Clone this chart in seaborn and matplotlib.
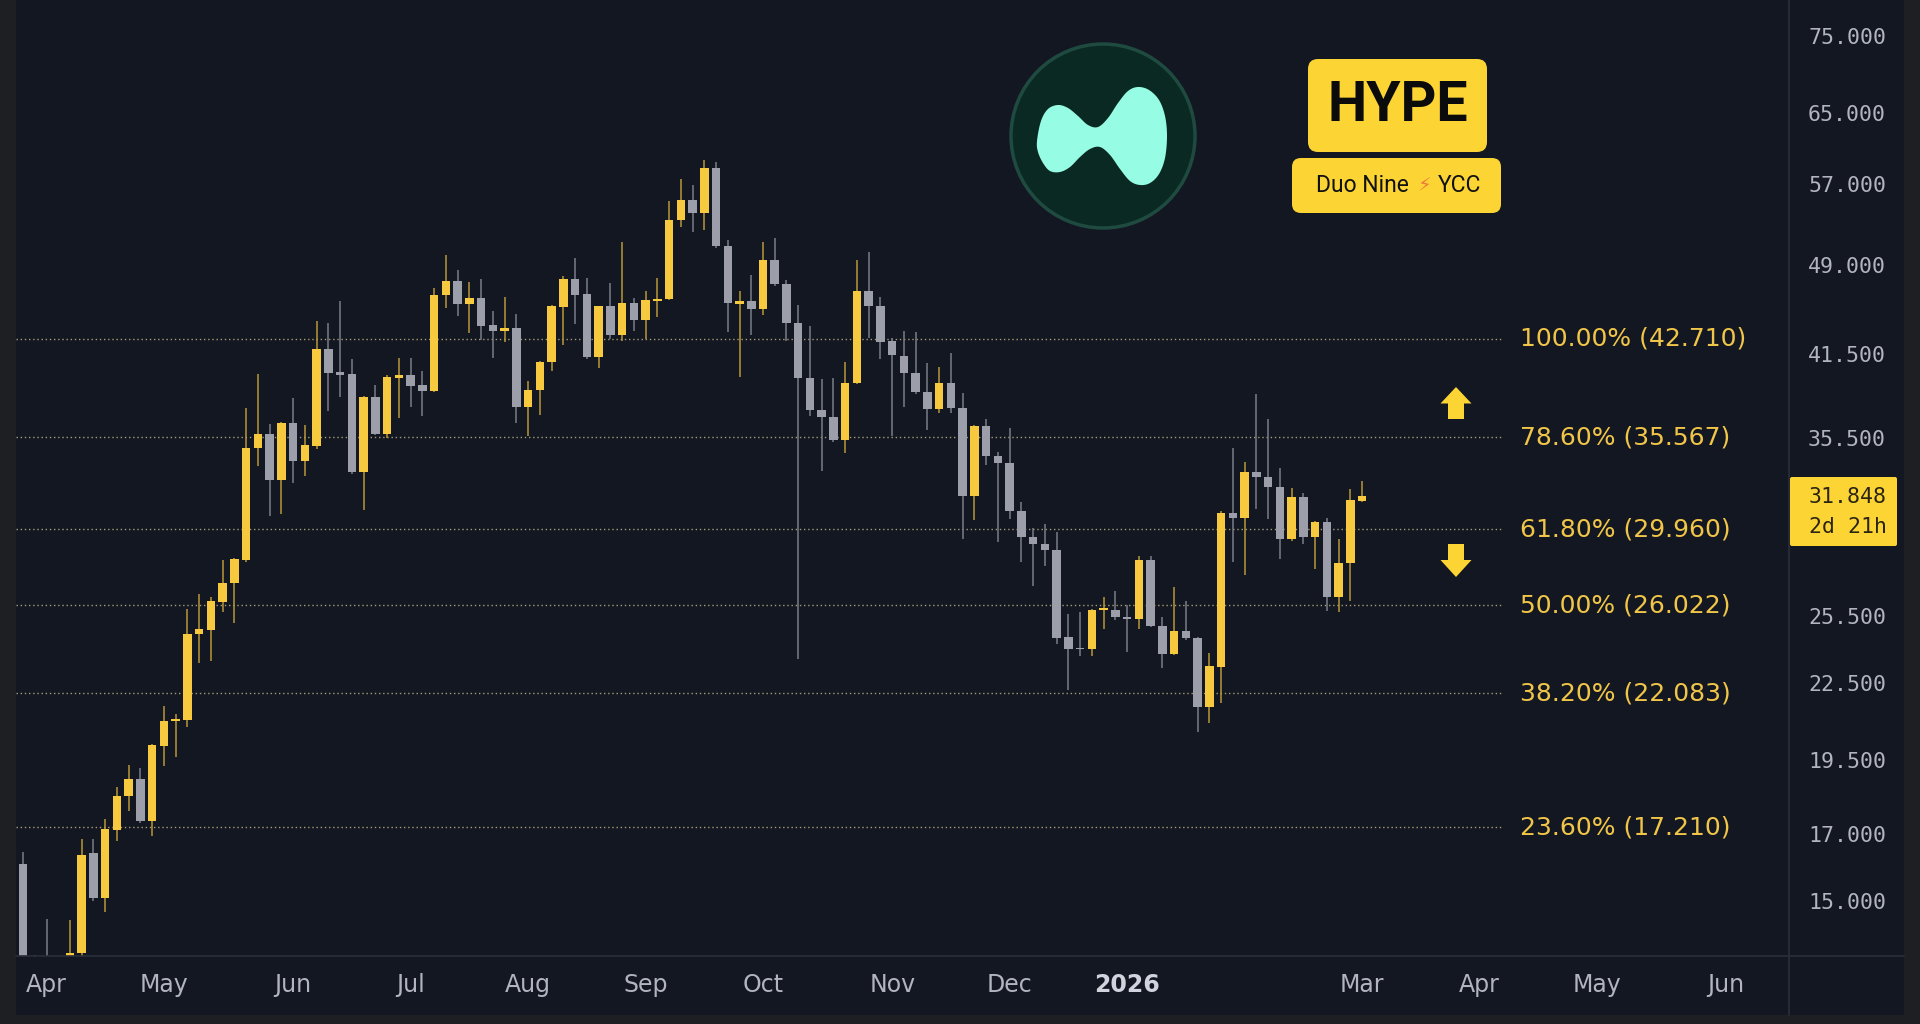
import numpy as np
import pandas as pd
import matplotlib
matplotlib.use("Agg")
import matplotlib.pyplot as plt
import matplotlib.dates as mdates
from matplotlib.patches import Rectangle, FancyBboxPatch, Polygon, Circle
from matplotlib.lines import Line2D
from matplotlib.transforms import IdentityTransform
from matplotlib.ticker import FixedLocator, NullLocator, FuncFormatter
import seaborn as sns

# ---------------- data ----------------
start_date = "2025-03-26"
n_bars = 115
bar_dates = pd.date_range(start_date, periods=n_bars, freq="3D")

opens = [16.07, 13.20, 12.80, 12.20, 11.00, 13.62, 16.40, 15.08, 17.12, 18.24,
         18.82, 17.41, 20.02, 20.97, 21.00, 24.66, 24.85, 26.17, 27.12, 28.30,
         34.83, 35.78, 32.85, 36.53, 34.03, 35.00, 41.92, 40.15, 40.00, 33.34,
         38.34, 35.78, 39.70, 39.93, 39.20, 38.77, 46.36, 47.58, 45.59, 46.10,
         43.80, 43.35, 43.60, 37.63, 38.84, 40.92, 45.30, 47.70, 46.40, 41.26,
         45.36, 42.98, 45.67, 44.27, 45.80, 46.00, 53.30, 55.30, 54.00, 58.70,
         50.80, 45.60, 45.80, 45.19, 49.50, 47.26, 44.00, 39.70, 37.40, 36.90,
         35.37, 39.37, 46.66, 45.36, 42.50, 41.40, 40.10, 38.67, 37.46, 39.32,
         37.58, 31.85, 36.34, 34.35, 33.90, 31.00, 29.52, 29.16, 28.85, 24.50,
         24.00, 23.98, 25.78, 25.80, 25.47, 25.35, 28.30, 25.04, 23.74, 24.79,
         24.46, 21.54, 23.20, 30.87, 30.62, 33.34, 33.05, 32.40, 29.41, 31.84,
         29.52, 30.38, 26.40, 28.13, 31.60]
highs = [16.43, 13.56, 14.50, 13.20, 14.48, 16.83, 16.85, 17.47, 18.55, 19.32,
         19.20, 20.10, 21.56, 21.24, 25.83, 26.56, 26.42, 28.30, 28.40, 37.56,
         40.02, 36.46, 36.60, 38.27, 36.38, 44.17, 44.00, 45.83, 41.15, 38.40,
         39.20, 39.90, 41.20, 41.20, 40.23, 46.97, 49.94, 48.56, 47.49, 47.75,
         45.00, 46.19, 44.75, 39.50, 41.00, 45.50, 48.03, 49.66, 47.87, 45.40,
         47.40, 51.17, 46.10, 46.66, 47.87, 55.22, 57.47, 56.92, 59.53, 59.40,
         51.31, 46.66, 48.12, 51.17, 51.55, 47.68, 45.50, 43.76, 39.64, 39.70,
         40.92, 49.43, 50.22, 46.21, 42.80, 43.35, 43.27, 40.80, 40.54, 41.63,
         38.60, 36.40, 36.80, 34.60, 36.20, 31.55, 30.05, 30.26, 29.83, 25.58,
         25.70, 25.85, 26.43, 26.73, 26.02, 28.50, 28.50, 25.44, 26.93, 26.20,
         24.50, 23.79, 31.00, 34.85, 33.98, 38.55, 36.78, 33.57, 32.33, 32.04,
         30.45, 30.60, 29.43, 32.28, 32.79]
lows = [12.90, 12.40, 11.80, 9.80, 10.50, 13.40, 15.00, 14.69, 16.77, 17.73,
        17.35, 16.93, 19.28, 19.61, 20.74, 23.36, 23.45, 25.69, 25.17, 28.20,
        33.71, 30.72, 30.84, 32.67, 33.09, 34.80, 37.35, 38.34, 33.20, 31.06,
        35.70, 35.50, 36.87, 37.63, 37.00, 38.70, 45.25, 44.58, 43.19, 42.63,
        41.24, 42.47, 36.53, 35.65, 37.04, 40.23, 42.24, 43.92, 41.10, 40.46,
        42.66, 42.55, 43.35, 42.66, 44.50, 45.90, 52.64, 52.13, 52.30, 50.60,
        43.27, 39.80, 42.98, 44.66, 47.10, 42.52, 23.52, 37.00, 33.38, 35.25,
        34.56, 39.30, 42.80, 41.17, 35.65, 37.63, 38.55, 36.05, 37.18, 37.18,
        29.40, 30.46, 33.80, 29.28, 30.55, 28.18, 26.96, 28.00, 24.22, 22.22,
        23.67, 23.67, 24.87, 25.30, 23.83, 24.87, 25.00, 23.16, 23.70, 24.40,
        20.56, 20.88, 21.67, 28.18, 27.52, 31.10, 30.55, 28.34, 29.30, 29.13,
        27.81, 25.75, 25.70, 26.20, 31.55]
closes = [13.30, 12.80, 12.20, 11.00, 13.62, 16.34, 15.08, 17.15, 18.24, 18.82,
          17.41, 20.05, 20.97, 21.02, 24.66, 24.89, 26.22, 27.12, 28.36, 34.87,
          35.78, 32.85, 36.53, 34.03, 35.06, 41.92, 40.09, 39.93, 33.34, 38.34,
          35.78, 39.80, 39.93, 39.13, 38.77, 46.36, 47.58, 45.59, 46.10, 43.76,
          43.35, 43.60, 37.63, 38.84, 40.92, 45.36, 47.70, 46.36, 41.26, 45.36,
          42.98, 45.67, 44.27, 45.90, 46.00, 53.32, 55.30, 54.00, 58.70, 50.78,
          45.62, 45.80, 45.19, 49.50, 47.26, 44.00, 39.70, 37.40, 36.90, 35.37,
          39.37, 46.66, 45.36, 42.48, 41.41, 40.10, 38.67, 37.46, 39.32, 37.58,
          31.85, 36.34, 34.35, 33.89, 31.00, 29.52, 29.16, 28.83, 24.49, 23.99,
          23.96, 25.80, 25.82, 25.47, 25.35, 28.30, 25.04, 23.74, 24.79, 24.46,
          21.54, 23.23, 30.87, 30.62, 33.34, 33.05, 32.40, 29.41, 31.84, 29.52,
          30.38, 26.40, 28.13, 31.65, 31.848]

fib_levels = [42.710, 35.567, 29.960, 26.022, 22.083, 17.210]
fib_labels = ["100.00%", "78.60%", "61.80%", "50.00%", "38.20%", "23.60%"]

price_ticks = [15, 17, 19.5, 22.5, 25.5, 35.5, 41.5, 49, 57, 65, 75]
month_tick_dates = ["2025-04-01", "2025-05-01", "2025-06-03", "2025-07-03",
                    "2025-08-02", "2025-09-01", "2025-10-01", "2025-11-03",
                    "2025-12-03", "2026-01-02", "2026-03-03", "2026-04-02",
                    "2026-05-02", "2026-06-04"]
month_tick_labels = ["Apr", "May", "Jun", "Jul", "Aug", "Sep", "Oct", "Nov",
                     "Dec", "2026", "Mar", "Apr", "May", "Jun"]
last_price_text = "31.848"
countdown_text = "2d 21h"
symbol = "HYPE"

# ---------------- style ----------------
BG = "#131722"
OUTER = "#1e1f23"
UP = "#F6C93F"
DOWN = "#9c9fa9"
UP_WICK = "#b8983a"
DOWN_WICK = "#7a7d87"
GRIDLINE = "#2a2e39"
AXTXT = "#b2b5be"
FIBC = "#F0C548"
BOXY = "#FCD535"

sns.set_theme(style="dark", rc={"axes.facecolor": BG, "figure.facecolor": OUTER})
plt.rcParams["font.family"] = ["DejaVu Sans"]

W, H = 1920, 1024
fig = plt.figure(figsize=(W / 100, H / 100), dpi=100)
fig.patch.set_facecolor(OUTER)

ID = IdentityTransform()
def P(px, py):
    return (px, H - py)

# chart panel background
fig.add_artist(Rectangle(P(16, 1015), 1904 - 16, 1015, transform=ID,
                         facecolor=BG, edgecolor="none", zorder=0))

ax_l, ax_r, ax_t, ax_b = 16, 1789, 0, 956
ax = fig.add_axes([ax_l / W, 1 - ax_b / H, (ax_r - ax_l) / W, (ax_b - ax_t) / H])
ax.set_facecolor(BG)

x = mdates.date2num(bar_dates)
o = np.array(opens); h = np.array(highs); l = np.array(lows); c = np.array(closes)
up = c >= o
body_lo = np.minimum(o, c)
body_hi = np.maximum(o, c)
body_hi = np.maximum(body_hi, body_lo * 1.0035)

ax.vlines(x[up], l[up], h[up], colors=UP_WICK, lw=1.1, zorder=2)
ax.vlines(x[~up], l[~up], h[~up], colors=DOWN_WICK, lw=1.1, zorder=2)
bw = 2.17
ax.bar(x[up], body_hi[up] - body_lo[up], bottom=body_lo[up], width=bw,
       color=UP, edgecolor="none", zorder=3)
ax.bar(x[~up], body_hi[~up] - body_lo[~up], bottom=body_lo[~up], width=bw,
       color=DOWN, edgecolor="none", zorder=3)

ax.set_yscale("log")
ax.set_ylim(13.54, 80.25)
x0 = mdates.date2num(pd.Timestamp(start_date))
ax.set_xlim(x0 - 1.79, x0 + 451.05)
ax.grid(False)
for s in ax.spines.values():
    s.set_visible(False)

# fib levels
fib_xmax = (1503 - ax_l) / (ax_r - ax_l)
fib_tx = (1520 - ax_l) / (ax_r - ax_l)
ytr = ax.get_yaxis_transform()
for lev, lab in zip(fib_levels, fib_labels):
    ax.axhline(lev, xmin=0, xmax=fib_xmax, color="#d8c98e", lw=1.0,
               ls=(0, (1, 2)), alpha=0.75, zorder=1)
    ax.text(fib_tx, lev, f"{lab} ({lev:.3f})", transform=ytr, ha="left",
            va="center", color=FIBC, fontsize=18, clip_on=False)

# y axis on the right
ax.yaxis.tick_right()
ax.yaxis.set_major_locator(FixedLocator(price_ticks))
ax.yaxis.set_minor_locator(NullLocator())
ax.yaxis.set_major_formatter(FuncFormatter(lambda v, p: f"{v:.3f}"))
ax.tick_params(axis="y", length=0, pad=13.7, labelsize=15.5, labelcolor=AXTXT)
for t in ax.get_yticklabels():
    t.set_fontfamily("DejaVu Sans Mono")

# x axis
ax.set_xticks(mdates.date2num(pd.to_datetime(month_tick_dates)))
ax.set_xticklabels(month_tick_labels)
ax.xaxis.set_minor_locator(NullLocator())
ax.tick_params(axis="x", length=0, pad=12, labelsize=17, labelcolor=AXTXT)
for t in ax.get_xticklabels():
    if t.get_text() == "2026":
        t.set_fontweight("bold")
        t.set_color("#d1d4dc")

# separator lines
fig.add_artist(Line2D([16, 1904], [H - 956, H - 956], transform=ID, color=GRIDLINE, lw=1.2))
fig.add_artist(Line2D([1789, 1789], [H - 1015, H], transform=ID, color=GRIDLINE, lw=1.2))

# last price label
fig.add_artist(FancyBboxPatch(P(1790, 546), 107, 69, transform=ID,
                              boxstyle="round,pad=0,rounding_size=2",
                              facecolor=BOXY, edgecolor="none", zorder=5))
fig.text(1809, H - 497, last_price_text, transform=ID, ha="left", va="center",
         fontsize=15.5, family="DejaVu Sans Mono", color="#2b2412", zorder=6)
fig.text(1809, H - 527, countdown_text, transform=ID, ha="left", va="center",
         fontsize=15.5, family="DejaVu Sans Mono", color="#2b2412", zorder=6)

# arrows
def up_arrow(cx, top):
    pts = [(cx, top), (cx + 15.5, top + 16.5), (cx + 8, top + 16.5), (cx + 8, top + 32),
           (cx - 8, top + 32), (cx - 8, top + 16.5), (cx - 15.5, top + 16.5)]
    return [P(a, b) for a, b in pts]
def down_arrow(cx, top):
    pts = [(cx - 8, top), (cx + 8, top), (cx + 8, top + 16), (cx + 15.5, top + 16),
           (cx, top + 33), (cx - 15.5, top + 16), (cx - 8, top + 16)]
    return [P(a, b) for a, b in pts]
fig.add_artist(Polygon(up_arrow(1456, 387), closed=True, transform=ID,
                       facecolor=BOXY, edgecolor="none", zorder=5))
fig.add_artist(Polygon(down_arrow(1456, 544), closed=True, transform=ID,
                       facecolor=BOXY, edgecolor="none", zorder=5))

# logo
lcx, lcy = 1103, 136
fig.add_artist(Circle(P(lcx, lcy), 92, transform=ID, facecolor="#0a2923",
                      edgecolor="#1f4a40", lw=2.5, zorder=4))
ctrl = [(-66, 5), (-62, -15), (-55, -27), (-45, -31), (-35, -28), (-25, -20),
        (-15, -11), (-5, -9), (5, -18), (15, -33), (25, -45), (35, -49),
        (46, -46), (56, -36), (62, -20), (64, 0), (62, 22), (56, 38), (47, 47),
        (37, 49), (27, 45), (17, 33), (7, 19), (-3, 11), (-13, 13), (-23, 21),
        (-33, 31), (-43, 36), (-53, 35), (-60, 27), (-65, 16)]
def catmull(pts, n=14):
    pts = np.asarray(pts, float)
    N = len(pts)
    out = []
    t = np.linspace(0, 1, n, endpoint=False)[:, None]
    for k in range(N):
        p0, p1, p2, p3 = pts[(k - 1) % N], pts[k], pts[(k + 1) % N], pts[(k + 2) % N]
        out.append(0.5 * ((2 * p1) + (-p0 + p2) * t + (2 * p0 - 5 * p1 + 4 * p2 - p3) * t ** 2
                          + (-p0 + 3 * p1 - 3 * p2 + p3) * t ** 3))
    return np.vstack(out)
blob = catmull(ctrl)
blob_px = [P(lcx + dx, lcy + dy) for dx, dy in blob]
fig.add_artist(Polygon(blob_px, closed=True, transform=ID, facecolor="#97FCE4",
                       edgecolor="none", zorder=5))

# HYPE badge
fig.add_artist(FancyBboxPatch(P(1308, 152), 179, 93, transform=ID,
                              boxstyle="round,pad=0,rounding_size=10",
                              facecolor=BOXY, edgecolor="none", zorder=4))
fig.text(1397.5, H - 106, symbol, transform=ID, ha="center", va="center",
         fontsize=40, fontweight="semibold", family=["Roboto", "DejaVu Sans"],
         color="#0b0b0b", zorder=5)
fig.add_artist(FancyBboxPatch(P(1292, 213), 209, 55, transform=ID,
                              boxstyle="round,pad=0,rounding_size=9",
                              facecolor=BOXY, edgecolor="none", zorder=4))
fig.text(1409, H - 186, "Duo Nine", transform=ID, ha="right", va="center",
         fontsize=16.5, family=["Roboto", "DejaVu Sans"], color="#111111", zorder=5)
fig.text(1424.5, H - 186, "\u26a1", transform=ID, ha="center", va="center",
         fontsize=14, family=["DejaVu Sans"], color="#F2773A", zorder=5)
fig.text(1438, H - 186, "YCC", transform=ID, ha="left", va="center",
         fontsize=16.5, family=["Roboto", "DejaVu Sans"], color="#111111", zorder=5)

fig.savefig("out.png", dpi=100, facecolor=OUTER)
